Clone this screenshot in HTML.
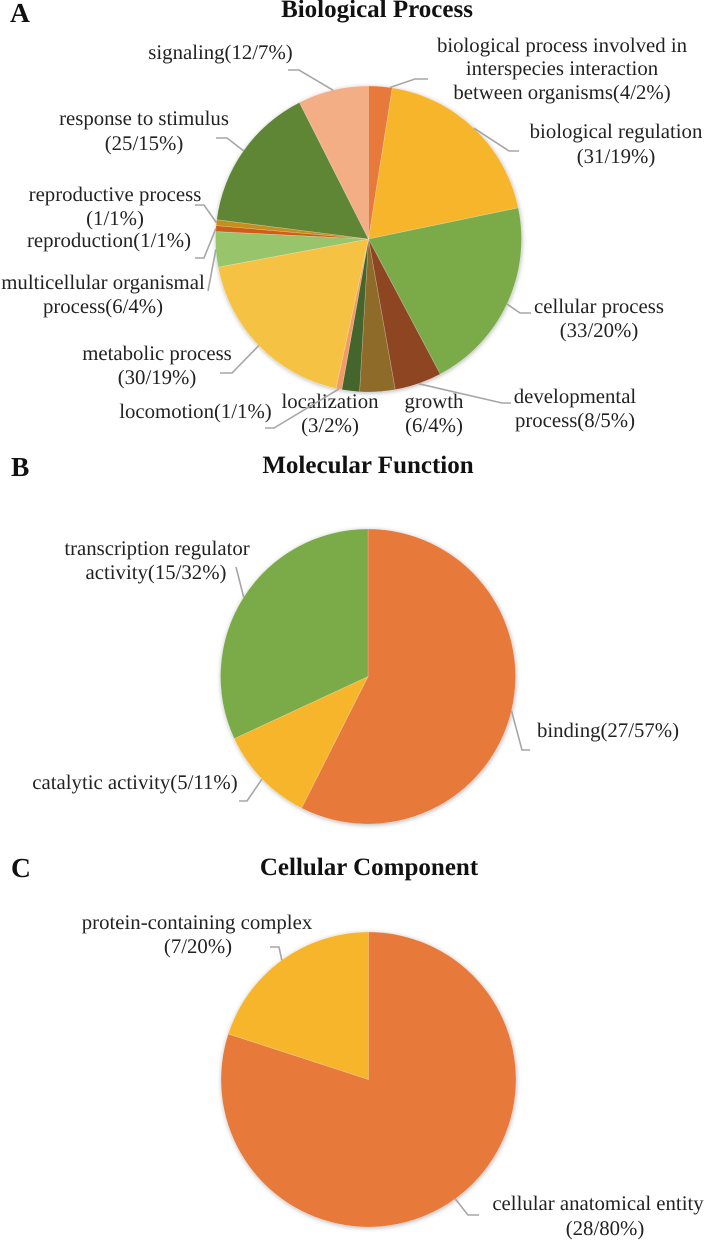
<!DOCTYPE html>
<html lang="en">
<head>
<meta charset="utf-8">
<title>GO classification pie charts</title>
<style>
html,body{margin:0;padding:0;background:#fff;width:705px;height:1240px;overflow:hidden}
svg{display:block}
text{font-family:"Liberation Serif",serif;fill:#222;text-rendering:geometricPrecision}
.label{font-size:20.8px}
.title{font-size:25px;font-weight:bold;fill:#111}
.panel{font-size:27.5px;font-weight:bold;fill:#111}
.leader{fill:none;stroke:#a6a6a6;stroke-width:1.6}
.slice{stroke:#fff;stroke-opacity:.3;stroke-width:.6}
</style>
</head>
<body>
<svg id="figure" xmlns="http://www.w3.org/2000/svg" width="705" height="1240" viewBox="0 0 705 1240">
  <defs>
    <filter id="pie-shadow" x="-10%" y="-10%" width="120%" height="120%">
      <feDropShadow dx="0.5" dy="1" stdDeviation="2.5" flood-color="#000" flood-opacity=".3"/>
    </filter>
  </defs>
  <text class="panel" x="10" y="22">A</text>
  <text class="panel" x="11" y="476">B</text>
  <text class="panel" x="11" y="877">C</text>
  <text class="title" x="377" y="17" text-anchor="middle">Biological Process</text>
  <text class="title" x="368" y="473" text-anchor="middle">Molecular Function</text>
  <text class="title" x="369" y="875" text-anchor="middle">Cellular Component</text>
  <g id="pie-a"></g>
  <g id="pie-b"></g>
  <g id="pie-c"></g>
</svg>
<script>
/* ---------- data ---------- */
const bioCategories = [
  ["biological process involved in","interspecies interaction","between organisms"],
  ["biological regulation",""],
  ["cellular process",""],
  ["developmental","process"],
  ["growth",""],
  ["localization",""],
  ["locomotion"],
  ["metabolic process",""],
  ["multicellular organismal","process"],
  ["reproduction"],
  ["reproductive process",""],
  ["response to stimulus",""],
  ["signaling"]
];
const bioCounts = [4,31,33,8,6,3,1,30,6,1,1,25,12];
const bioPercents = [2,19,20,5,4,2,1,19,4,1,1,15,7];

const molCategories = [
  ["binding"],
  ["catalytic activity"],
  ["transcription regulator","activity"]
];
const molCounts = [27,5,15];
const molPercents = [57,11,32];

const cellCategories = [
  ["cellular anatomical entity",""],
  ["protein-containing complex",""]
];
const cellCounts = [28,7];
const cellPercents = [80,20];

/* ---------- styling and label layout (not data) ---------- */
const bioColors = ["#E7793A","#F7B52C","#7AAB48","#8E4522","#8F6B2A","#44652C","#F19C66","#F6C244","#98C56C","#CE5D16","#C58F1E","#5F8635","#F3AE86"];
const molColors = ["#E7793A","#F7B52C","#7AAB48"];
const cellColors = ["#E7793A","#F7B52C"];

const bioLayout = [
  {cx:[562,562,562],  base:[52,75,99],  elbow:[[415,79],[428,79]], frac:.9},
  {cx:[616,616],      base:[138,163],   elbow:[[509,151],[519,151]]},
  {cx:[599,599],      base:[313,337],   elbow:[[520,313],[531,313]]},
  {cx:[575,575],      base:[403,427],   elbow:[[502,403],[511,403]]},
  {cx:[434,434],      base:[408,432],   elbow:[]},
  {cx:[330,330],      base:[408,432],   elbow:[]},
  {cx:[195.5],        base:[418],       elbow:[[274,428],[265,428]]},
  {cx:[157,157],      base:[360,384],   elbow:[[232,373],[220,373]]},
  {cx:[103,103],      base:[289,313],   elbow:[[208,291]]},
  {cx:[109],          base:[247],       elbow:[[204,258],[195,258]]},
  {cx:[115,115],      base:[201,225],   elbow:[[204,205],[195,205]]},
  {cx:[144,144],      base:[125,150],   elbow:[[227,138],[216,138]]},
  {cx:[220.5],        base:[59],        elbow:[[299,70],[288,70]]}
];
const molLayout = [
  {cx:[608],      base:[737],     elbow:[[522,750],[530,750]]},
  {cx:[135],      base:[789],     elbow:[[247,801],[239,801]]},
  {cx:[157,156],  base:[555,579], elbow:[[236,567]]}
];
const cellLayout = [
  {cx:[598,605],  base:[1210,1235], elbow:[[468,1215],[479,1215]]},
  {cx:[197,198],  base:[929,953],   elbow:[[279,947],[270,947]]}
];

const SVG_NS = "http://www.w3.org/2000/svg";

function slug(s){
  return s.toLowerCase().replace(/[^a-z0-9]+/g,"-").replace(/^-|-$/g,"");
}

function polar(cx, cy, r, deg){
  const a = deg * Math.PI / 180;
  return [cx + r * Math.sin(a), cy - r * Math.cos(a)];
}

function drawPie(hostId, cx, cy, r, categories, counts, percents, colors, layout){
  const host = document.getElementById(hostId);
  const total = counts.reduce((s, v) => s + v, 0);

  const disc = document.createElementNS(SVG_NS, "circle");
  disc.setAttribute("cx", cx);
  disc.setAttribute("cy", cy);
  disc.setAttribute("r", r);
  disc.setAttribute("fill", "#fff");
  disc.setAttribute("filter", "url(#pie-shadow)");
  
  
  host.appendChild(disc);

  let angle = 0;
  counts.forEach((value, i) => {
    const sweep = value / total * 360;
    const start = polar(cx, cy, r, angle);
    const end = polar(cx, cy, r, angle + sweep);
    const large = sweep > 180 ? 1 : 0;
    const name = slug(categories[i].join(" "));

    const path = document.createElementNS(SVG_NS, "path");
    path.setAttribute("d", `M${cx} ${cy}L${start[0]} ${start[1]}A${r} ${r} 0 ${large} 1 ${end[0]} ${end[1]}Z`);
    path.setAttribute("fill", colors[i]);
    path.setAttribute("class", "slice");
    
    
    host.appendChild(path);

    const item = layout[i];
    if (item.elbow.length) {
      const frac = item.frac === undefined ? .5 : item.frac;
      const anchor = polar(cx, cy, r, angle + sweep * frac);
      const pts = [anchor].concat(item.elbow).map(p => p.join(",")).join(" ");
      const line = document.createElementNS(SVG_NS, "polyline");
      line.setAttribute("points", pts);
      line.setAttribute("class", "leader");
      
      
      host.appendChild(line);
    }

    categories[i].forEach((lineText, k) => {
      const isLast = k === categories[i].length - 1;
      const text = document.createElementNS(SVG_NS, "text");
      text.setAttribute("class", "label");
      text.setAttribute("x", item.cx[k]);
      text.setAttribute("y", item.base[k]);
      text.setAttribute("text-anchor", "middle");
      
      
      text.textContent = isLast ? `${lineText}(${value}/${percents[i]}%)` : lineText;
      host.appendChild(text);
    });

    angle += sweep;
  });
}

drawPie("pie-a", 368.5, 239, 153, bioCategories, bioCounts, bioPercents, bioColors, bioLayout);
drawPie("pie-b", 368, 676.5, 147.5, molCategories, molCounts, molPercents, molColors, molLayout);
drawPie("pie-c", 368.5, 1079.5, 147.5, cellCategories, cellCounts, cellPercents, cellColors, cellLayout);
</script>
</body>
</html>
